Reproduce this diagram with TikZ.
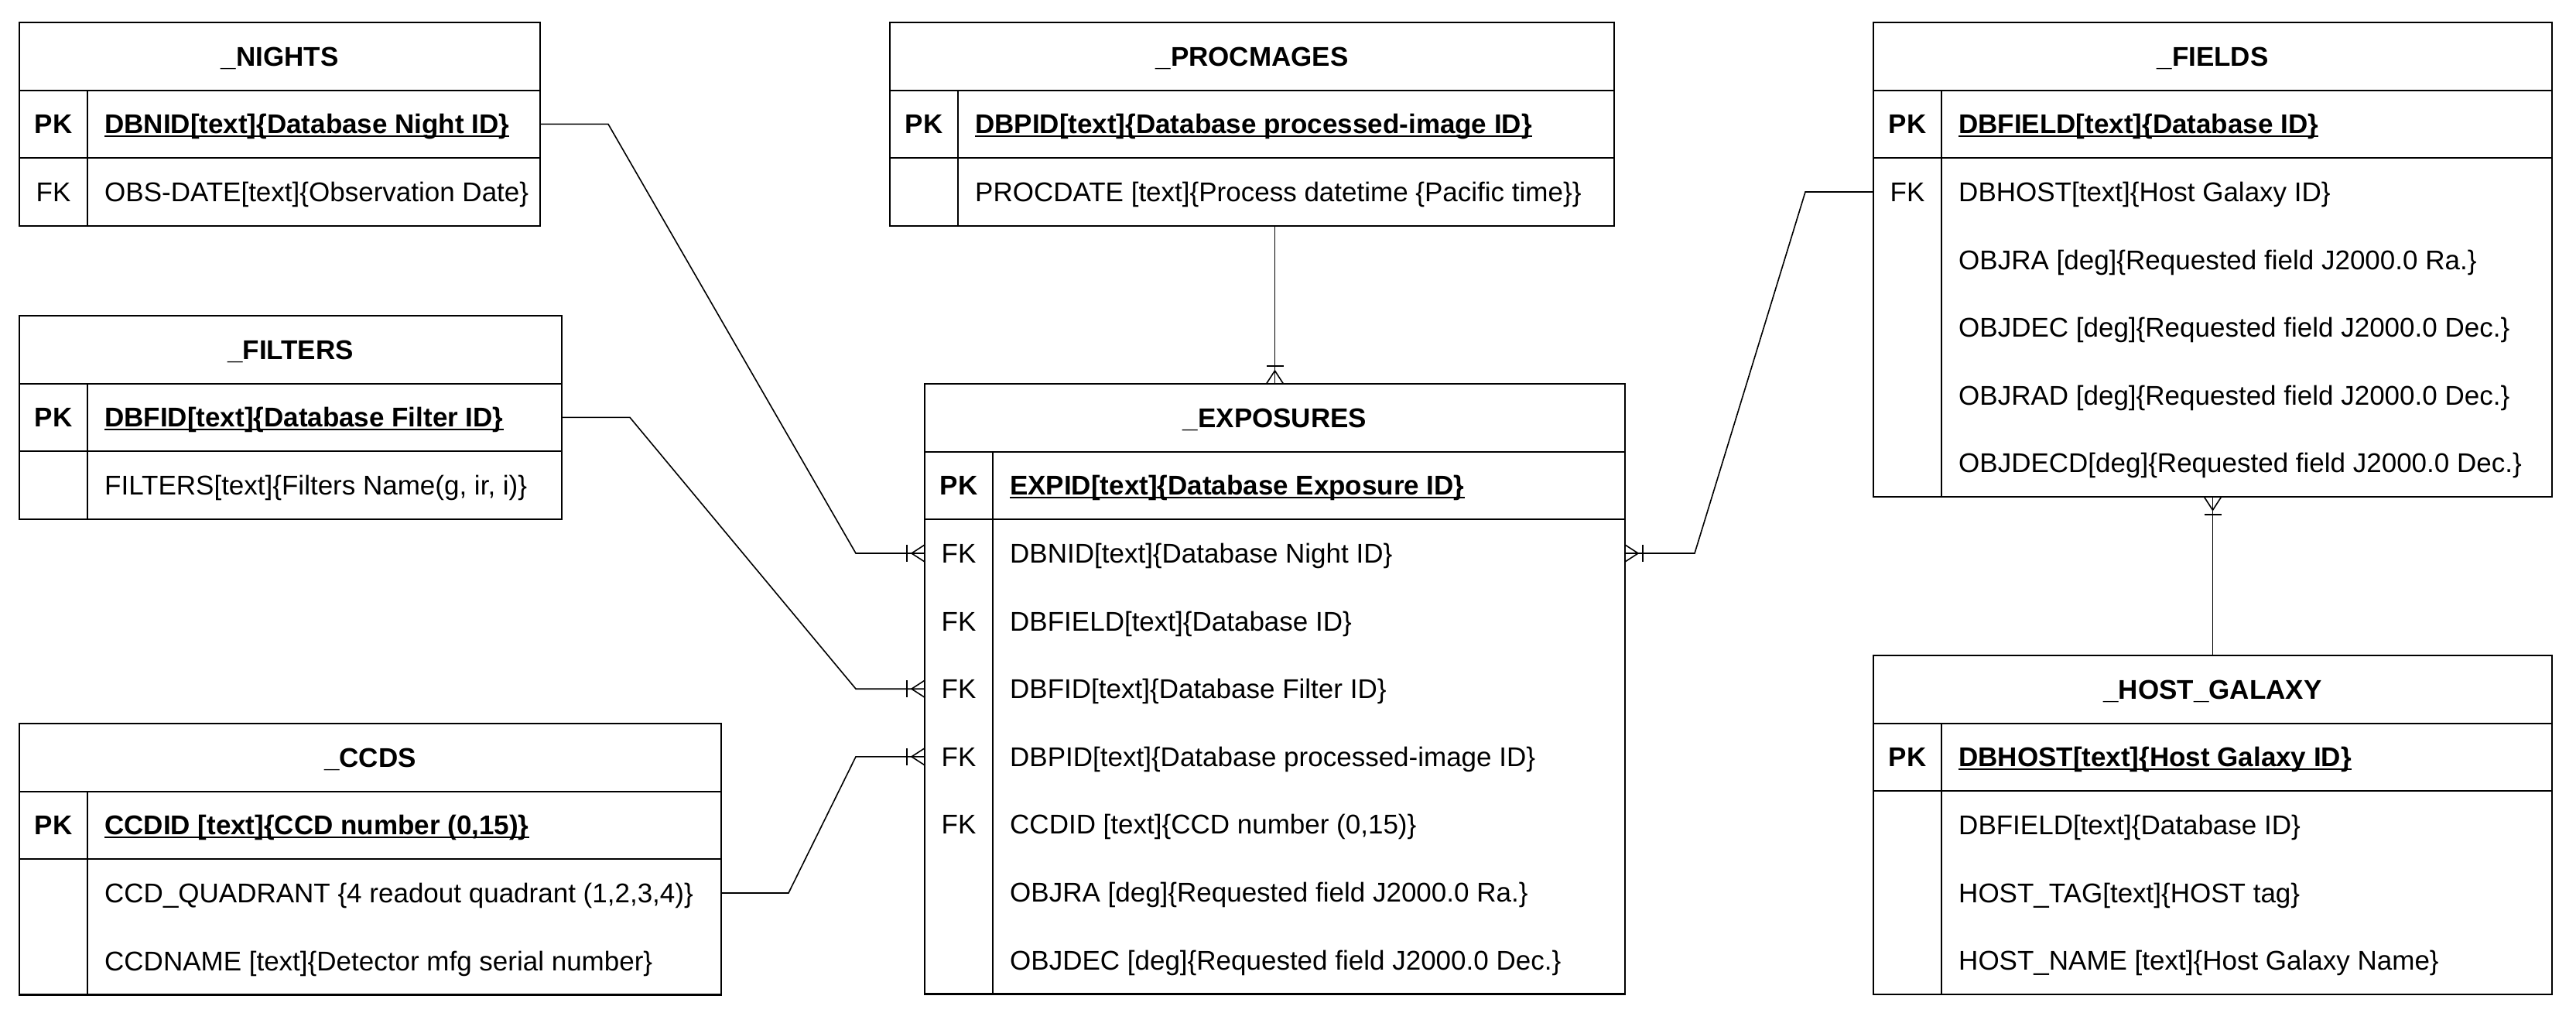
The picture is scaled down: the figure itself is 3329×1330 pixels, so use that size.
\documentclass[tikz,border=0pt]{standalone}
\usepackage{fontspec}
\setmainfont{Liberation Sans}
\usetikzlibrary{calc}
\newcommand\ulx[1]{\setbox0\hbox{#1}\rlap{\rule[-4pt]{\wd0}{2.2pt}}\box0}
\tikzset{
 tline/.style={line width=2.2pt, draw=black},
 tbox/.style={draw=black, line width=2.2pt, rectangle, inner sep=0, outer sep=0},
 hbox/.style={draw=black, line width=2.2pt, rectangle, inner sep=0, outer sep=0, minimum height=87.6pt},
 rbox/.style={rectangle, inner sep=0, outer sep=0, minimum height=87.6pt},
 ttl/.style={anchor=base, inner sep=0, font=\fontsize{35pt}{42pt}\selectfont\bfseries},
 keyt/.style={anchor=base, inner sep=0, font=\fontsize{35pt}{42pt}\selectfont},
 keyb/.style={anchor=base, inner sep=0, font=\fontsize{35pt}{42pt}\selectfont\bfseries},
 fldt/.style={anchor=base west, inner sep=0, font=\fontsize{35pt}{42pt}\selectfont},
 fldb/.style={anchor=base west, inner sep=0, font=\fontsize{35pt}{42pt}\selectfont\bfseries},
 conn/.style={line width=1.6pt, draw=black},
 crowfoot/.pic={\draw[conn] (0,-11) -- (-17,0) -- (0,11); \draw[conn] (-23,-11) -- (-23,11);}
}
% table: #1 name, #2 left, #3 right, #4 top, #5 number of non-PK rows, #6 title, #7 PK text
\newcommand\ertable[7]{%
  \pgfmathsetmacro\tw{#3-#2}%
  \pgfmathsetmacro\tht{175.2+#5*87.6}%
  \node[tbox, minimum width=\tw pt, minimum height=\tht pt, anchor=north west] (#1) at (#2,#4) {};
  \node[hbox, minimum width=\tw pt, anchor=north west] (#1H) at (#2,#4) {};
  \node[hbox, minimum width=\tw pt, anchor=north west] (#1PK) at (#1H.south west) {};
  \draw[tline] ([xshift=88pt]#1PK.north west) -- ([xshift=88pt]#1.south west);
  \node[ttl] (#1T) at ([yshift=-12.5pt]#1H.center) {#6};
  \node[keyb] (#1PKk) at ([xshift=44pt,yshift=-12.5pt]#1PK.west) {PK};
  \node[fldb] (#1PKt) at ([xshift=110pt,yshift=-12.5pt]#1PK.west) {\ulx{#7}};
}
% row: #1 name, #2 previous row, #3 key, #4 text
\newcommand\errow[4]{%
  \node[rbox, minimum width=\tw pt, anchor=north west] (#1) at (#2.south west) {};
  \node[keyt] (#1k) at ([xshift=44pt,yshift=-12.5pt]#1.west) {#3};
  \node[fldt] (#1t) at ([xshift=110pt,yshift=-12.5pt]#1.west) {#4};
}
\begin{document}
\begin{tikzpicture}[x=1pt,y=-1pt]
\useasboundingbox (0,0) rectangle (3329,1330);

% _NIGHTS
\ertable{nights}{25}{698}{29}{1}{\_NIGHTS}{DBNID[text]\{Database Night ID\}}
\errow{nightsR1}{nightsPK}{FK}{OBS-DATE[text]\{Observation Date\}}

% _FILTERS
\ertable{filters}{25}{726}{408}{1}{\_FILTERS}{DBFID[text]\{Database Filter ID\}}
\errow{filtersR1}{filtersPK}{}{FILTERS[text]\{Filters Name(g, ir, i)\}}

% _CCDS
\ertable{ccds}{25}{932}{935}{2}{\_CCDS}{CCDID [text]\{CCD number (0,15)\}}
\errow{ccdsR1}{ccdsPK}{}{CCD\_QUADRANT \{4 readout quadrant (1,2,3,4)\}}
\errow{ccdsR2}{ccdsR1}{}{CCDNAME [text]\{Detector mfg serial number\}}

% _PROCMAGES
\ertable{proc}{1150}{2086}{29}{1}{\_PROCMAGES}{DBPID[text]\{Database processed-image ID\}}
\errow{procR1}{procPK}{}{PROCDATE [text]\{Process datetime \{Pacific time\}\}}

% _EXPOSURES
\ertable{exp}{1195}{2100}{496}{7}{\_EXPOSURES}{EXPID[text]\{Database Exposure ID\}}
\errow{expR1}{expPK}{FK}{DBNID[text]\{Database Night ID\}}
\errow{expR2}{expR1}{FK}{DBFIELD[text]\{Database ID\}}
\errow{expR3}{expR2}{FK}{DBFID[text]\{Database Filter ID\}}
\errow{expR4}{expR3}{FK}{DBPID[text]\{Database processed-image ID\}}
\errow{expR5}{expR4}{FK}{CCDID [text]\{CCD number (0,15)\}}
\errow{expR6}{expR5}{}{OBJRA [deg]\{Requested field J2000.0 Ra.\}}
\errow{expR7}{expR6}{}{OBJDEC [deg]\{Requested field J2000.0 Dec.\}}

% _FIELDS
\ertable{fields}{2421}{3298}{29}{5}{\_FIELDS}{DBFIELD[text]\{Database ID\}}
\errow{fieldsR1}{fieldsPK}{FK}{DBHOST[text]\{Host Galaxy ID\}}
\errow{fieldsR2}{fieldsR1}{}{OBJRA [deg]\{Requested field J2000.0 Ra.\}}
\errow{fieldsR3}{fieldsR2}{}{OBJDEC [deg]\{Requested field J2000.0 Dec.\}}
\errow{fieldsR4}{fieldsR3}{}{OBJRAD [deg]\{Requested field J2000.0 Dec.\}}
\errow{fieldsR5}{fieldsR4}{}{OBJDECD[deg]\{Requested field J2000.0 Dec.\}}

% _HOST_GALAXY
\ertable{host}{2421}{3298}{847}{3}{\_HOST\_GALAXY}{DBHOST[text]\{Host Galaxy ID\}}
\errow{hostR1}{hostPK}{}{DBFIELD[text]\{Database ID\}}
\errow{hostR2}{hostR1}{}{HOST\_TAG[text]\{HOST tag\}}
\errow{hostR3}{hostR2}{}{HOST\_NAME [text]\{Host Galaxy Name\}}

% connectors
\draw[conn] (nightsPK.east) -- ++(88,0) -- ([xshift=-89pt]expR1.west) -- (expR1.west);
\draw[conn] (filtersPK.east) -- ++(88,0) -- ([xshift=-89pt]expR3.west) -- (expR3.west);
\draw[conn] (ccdsR1.east) -- ++(87,0) -- ([xshift=-89pt]expR4.west) -- (expR4.west);
\draw[conn] (fieldsR1.west) -- ++(-88,0) -- ([xshift=90pt]expR1.east) -- (expR1.east);
\draw[conn] (exp.north |- proc.south) -- (exp.north);
\draw[conn] (fields.south) -- (host.north);

\pic at (expR1.west) {crowfoot};
\pic at (expR3.west) {crowfoot};
\pic at (expR4.west) {crowfoot};
\pic[rotate=180] at (expR1.east) {crowfoot};
\pic[rotate=-90] at (exp.north) {crowfoot};
\pic[rotate=90] at (fields.south) {crowfoot};
\end{tikzpicture}
\end{document}
